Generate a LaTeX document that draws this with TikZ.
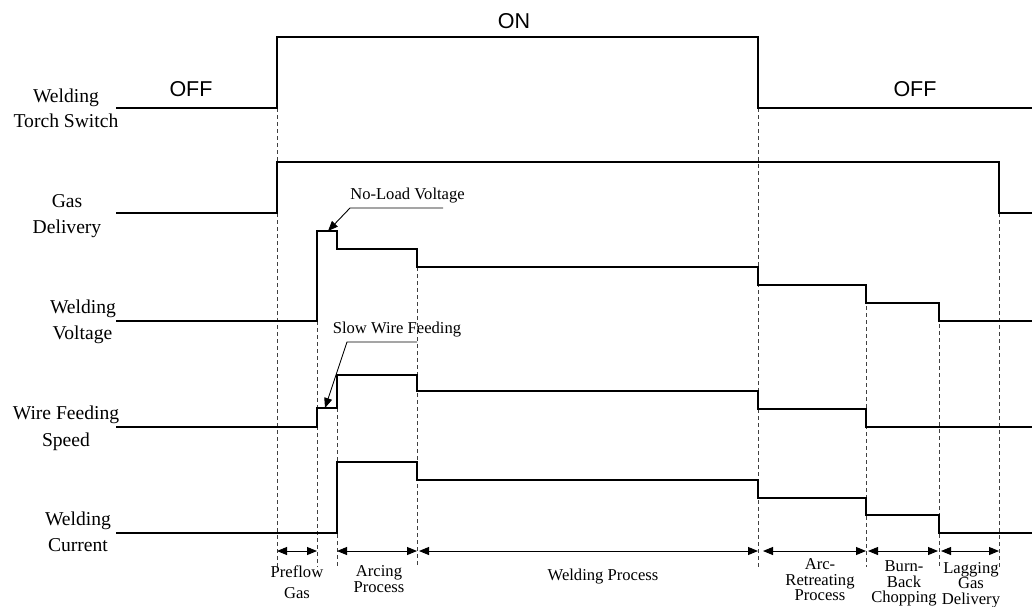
\documentclass[tikz,border=0pt]{standalone}
\usepackage{fontspec}
\setmainfont{Liberation Serif}
\newfontfamily\arialf{Liberation Sans}
\usetikzlibrary{arrows.meta}
\begin{document}
\begin{tikzpicture}[x=1pt,y=-1pt,
 sig/.style={line width=2.9pt, line join=miter},
 guide/.style={line width=0.8pt, dash pattern=on 4pt off 3pt, black!75},
 span/.style={line width=0.9pt, {Triangle[length=10pt,width=8pt]}-{Triangle[length=10pt,width=8pt]}},
 lead/.style={line width=0.9pt, -{Triangle[length=10pt,width=8pt]}},
 side/.style={font=\fontsize{19.6}{22}\selectfont, anchor=base, inner sep=0pt},
 state/.style={font=\arialf\fontsize{21.5}{24}\selectfont, anchor=base, inner sep=0pt},
 note/.style={font=\fontsize{16.6}{18}\selectfont, anchor=base, inner sep=0pt}]
\useasboundingbox (0,0) rectangle (1032,606);

% dashed guides
\draw[guide] (277,108) -- (277,567);
\draw[guide] (317,321) -- (317,567);
\draw[guide] (337,408) -- (337,567);
\draw[guide] (417,267) -- (417,567);
\draw[guide] (758,108) -- (758,567);
\draw[guide] (866,285) -- (866,567);
\draw[guide] (939,303) -- (939,567);
\draw[guide] (999,213) -- (999,567);

% signals
\draw[sig] (116,108) -- (277,108) -- (277,37) -- (758,37) -- (758,108) -- (1032,108);
\draw[sig] (116,213) -- (277,213) -- (277,162) -- (999,162) -- (999,213) -- (1032,213);
\draw[sig] (116,321) -- (317,321) -- (317,231) -- (337,231) -- (337,249) -- (417,249) -- (417,267)
  -- (758,267) -- (758,285) -- (866,285) -- (866,303) -- (939,303) -- (939,321) -- (1032,321);
\draw[sig] (116,427) -- (317,427) -- (317,408) -- (337,408) -- (337,375) -- (417,375) -- (417,391)
  -- (758,391) -- (758,409) -- (866,409) -- (866,427) -- (1032,427);
\draw[sig] (116,533) -- (337,533) -- (337,462) -- (417,462) -- (417,480) -- (758,480) -- (758,498)
  -- (866,498) -- (866,515) -- (939,515) -- (939,533) -- (1032,533);

% side labels
\node[side] (sw1) at (66,102) {Welding};
\node[side] (sw2) at (66,127.5) {Torch Switch};
\node[side] (gd1) at (67,207) {Gas};
\node[side] (gd2) at (67,233.5) {Delivery};
\node[side] (wv1) at (83,313) {Welding};
\node[side] (wv2) at (82.5,339) {Voltage};
\node[side] (wf1) at (66,419) {Wire Feeding};
\node[side] (wf2) at (66,446) {Speed};
\node[side] (wc1) at (78,525) {Welding};
\node[side] (wc2) at (78,551) {Current};

% states
\node[state] (off1) at (191,96) {OFF};
\node[state] (on) at (514,28.5) {ON};
\node[state] (off2) at (915,96) {OFF};

% annotations
\node[note] (nlv) at (407.5,199) {No-Load Voltage};
\coordinate (nlvA) at (443,208);
\coordinate (nlvB) at (350,208);
\coordinate (nlvT) at (328,231);
\draw[lead] (nlvA) -- (nlvB) -- (nlvT);

\node[note] (swf) at (397,333.5) {Slow Wire Feeding};
\coordinate (swfA) at (417,342);
\coordinate (swfB) at (347,342);
\coordinate (swfT) at (325,408);
\draw[lead] (swfA) -- (swfB) -- (swfT);

% spans
\coordinate (p1) at (277,551); \coordinate (p2) at (317,551);
\coordinate (a1) at (337,551); \coordinate (a2) at (417,551);
\coordinate (w1) at (419,551); \coordinate (w2) at (758,551);
\coordinate (r1) at (763,551); \coordinate (r2) at (866,551);
\coordinate (b1) at (868,551); \coordinate (b2) at (938,551);
\coordinate (l1) at (941,551); \coordinate (l2) at (999,551);
\draw[span] (p1) -- (p2);
\draw[span] (a1) -- (a2);
\draw[span] (w1) -- (w2);
\draw[span] (r1) -- (r2);
\draw[span] (b1) -- (b2);
\draw[span] (l1) -- (l2);

% phase labels
\node[note] (pf1) at (297,577) {Preflow};
\node[note] (pf2) at (297,598.5) {Gas};
\node[note] (ar1) at (379,576.5) {Arcing};
\node[note] (ar2) at (379,592.5) {Process};
\node[note] (wp) at (603,580) {Welding Process};
\node[note] (rt1) at (820,569.5) {Arc-};
\node[note] (rt2) at (820,585) {Retreating};
\node[note] (rt3) at (820,600.5) {Process};
\node[note] (bb1) at (904,571.5) {Burn-};
\node[note] (bb2) at (904,587) {Back};
\node[note] (bb3) at (904,602) {Chopping};
\node[note] (lg1) at (971,573) {Lagging};
\node[note] (lg2) at (971,588) {Gas};
\node[note] (lg3) at (971,604) {Delivery};
\end{tikzpicture}
\end{document}
